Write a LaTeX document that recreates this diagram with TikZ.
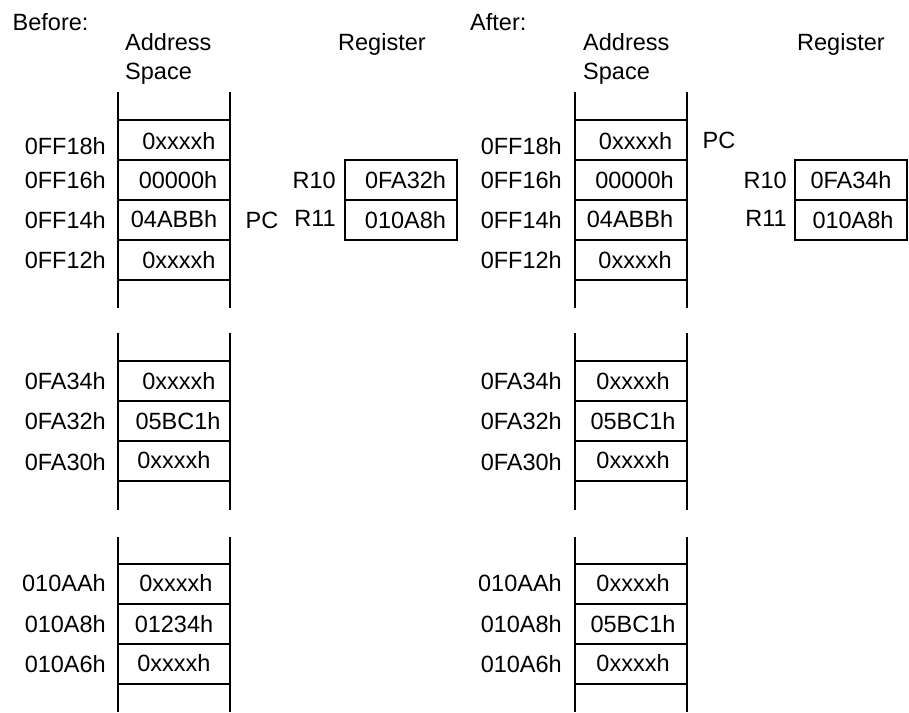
\documentclass[tikz,border=0pt]{standalone}
\usepackage{fontspec}
\setmainfont{Liberation Sans}
\begin{document}
\begin{tikzpicture}[x=1pt,y=-1pt,
  txt/.style={inner sep=0pt,font=\fontsize{23.5}{28}\selectfont},
  memline/.style={line width=1.5pt},
  regcell/.style={draw,line width=1.5pt,minimum width=112pt,minimum height=40pt,inner sep=0pt,font=\fontsize{23.5}{28}\selectfont}]
\useasboundingbox (0,0) rectangle (909,712);
% ---------- headings ----------
\node[txt,anchor=base west] (hb) at (12.5,30) {Before:};
\node[txt,anchor=base west] (hba) at (125,50) {Address};
\node[txt,anchor=base west] (hbs) at (125,79) {Space};
\node[txt,anchor=base west] (hbr) at (338,50) {Register};
\node[txt,anchor=base west] (ha) at (470,30) {After:};
\node[txt,anchor=base west] (haa) at (583,50) {Address};
\node[txt,anchor=base west] (has) at (583,79) {Space};
\node[txt,anchor=base west] (har) at (797,50) {Register};
% ---------- memory columns ----------
\foreach \xl/\xr in {118/230, 575/687}{
  \foreach \ya/\yb in {92/308, 333/510, 537/712}
    {\draw[memline] (\xl,\ya) -- (\xl,\yb); \draw[memline] (\xr,\ya) -- (\xr,\yb);}
  \foreach \y in {120,160,200,240,280, 361,401,441,481, 564,604,644,684}
    \draw[memline] (\xl,\y) -- (\xr,\y);
}
% ---------- before: addresses ----------
\node[txt,anchor=east] (ba1) at (106,146) {0FF18h};
\node[txt,anchor=east] (ba2) at (106,180) {0FF16h};
\node[txt,anchor=east] (ba3) at (106,220) {0FF14h};
\node[txt,anchor=east] (ba4) at (106,260) {0FF12h};
\node[txt,anchor=east] (ba5) at (106,381) {0FA34h};
\node[txt,anchor=east] (ba6) at (106,421) {0FA32h};
\node[txt,anchor=east] (ba7) at (106,462) {0FA30h};
\node[txt,anchor=east] (ba8) at (106,583) {010AAh};
\node[txt,anchor=east] (ba9) at (106,624) {010A8h};
\node[txt,anchor=east] (ba10) at (106,664) {010A6h};
% ---------- before: values ----------
\node[txt] (bv1) at (179,141) {0xxxxh};
\node[txt] (bv2) at (178,180) {00000h};
\node[txt] (bv3) at (174,219) {04ABBh};
\node[txt] (bv4) at (179,260) {0xxxxh};
\node[txt] (bv5) at (179,381) {0xxxxh};
\node[txt] (bv6) at (178,421) {05BC1h};
\node[txt] (bv7) at (174,460) {0xxxxh};
\node[txt] (bv8) at (176,583) {0xxxxh};
\node[txt] (bv9) at (174,624) {01234h};
\node[txt] (bv10) at (174,663) {0xxxxh};
% ---------- before: registers ----------
\node[txt] (bpc) at (262,220) {PC};
\node[regcell] (br10) at (401,180) {\hspace*{9pt}0FA32h};
\node[regcell] (br11) at (401,220) {\hspace*{9pt}010A8h};
\node[txt,anchor=east] (bl10) at (336,180) {R10};
\node[txt,anchor=east] (bl11) at (336,218) {R11};
% ---------- after: addresses ----------
\node[txt,anchor=east] (aa1) at (562,146) {0FF18h};
\node[txt,anchor=east] (aa2) at (562,180) {0FF16h};
\node[txt,anchor=east] (aa3) at (562,220) {0FF14h};
\node[txt,anchor=east] (aa4) at (562,260) {0FF12h};
\node[txt,anchor=east] (aa5) at (562,381) {0FA34h};
\node[txt,anchor=east] (aa6) at (562,421) {0FA32h};
\node[txt,anchor=east] (aa7) at (562,462) {0FA30h};
\node[txt,anchor=east] (aa8) at (562,583) {010AAh};
\node[txt,anchor=east] (aa9) at (562,624) {010A8h};
\node[txt,anchor=east] (aa10) at (562,664) {010A6h};
% ---------- after: values ----------
\node[txt] (av1) at (635.5,141) {0xxxxh};
\node[txt] (av2) at (634.5,180) {00000h};
\node[txt] (av3) at (630,219) {04ABBh};
\node[txt] (av4) at (635,260) {0xxxxh};
\node[txt] (av5) at (633,381) {0xxxxh};
\node[txt] (av6) at (633,421) {05BC1h};
\node[txt] (av7) at (633,460) {0xxxxh};
\node[txt] (av8) at (633,583) {0xxxxh};
\node[txt] (av9) at (633,624) {05BC1h};
\node[txt] (av10) at (633,663) {0xxxxh};
% ---------- after: registers ----------
\node[txt] (apc) at (719,140) {PC};
\node[regcell] (ar10) at (851,180) {0FA34h};
\node[regcell] (ar11) at (851,220) {\hspace*{4pt}010A8h};
\node[txt,anchor=east] (al10) at (787,180) {R10};
\node[txt,anchor=east] (al11) at (787,218) {R11};
\end{tikzpicture}
\end{document}
